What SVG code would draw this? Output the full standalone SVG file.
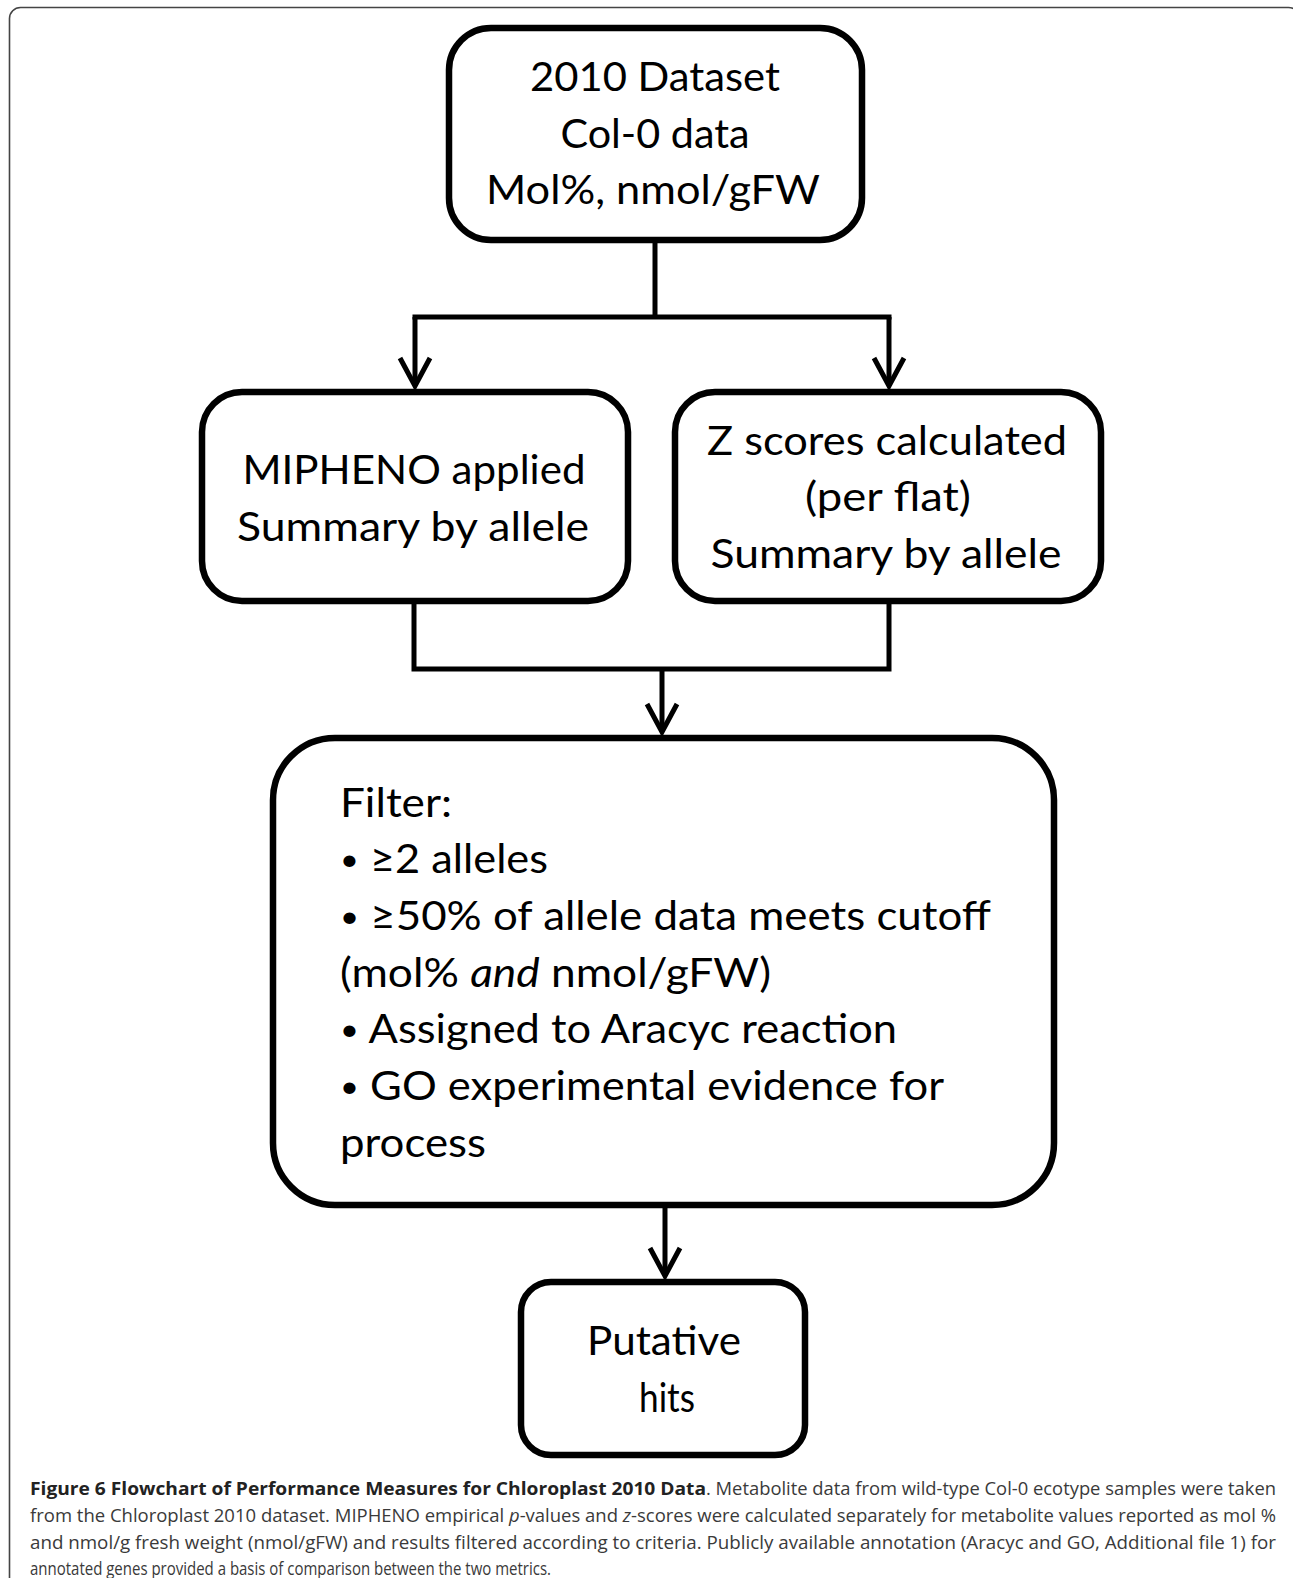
<svg xmlns="http://www.w3.org/2000/svg" width="1293" height="1578" viewBox="0 0 1293 1578">
<style>
.frame{fill:none;stroke:#444;stroke-width:1.6}
.box{fill:#fff;stroke:#000;stroke-width:6.5}
.lbl{font-family:Lato,"Open Sans",sans-serif;font-size:40px;fill:#000}
.mid{text-anchor:middle}
.bul{font-size:30px}
.conn{fill:none;stroke:#000;stroke-width:5}
.cap{font-family:"Open Sans","Noto Sans",sans-serif;font-size:18px;fill:#3a3a3a}
.capb{font-weight:bold;fill:#222}
</style>
<defs>
<marker id="arr" viewBox="-34 -20 40 40" markerWidth="40" markerHeight="40" refX="0" refY="0" orient="auto" markerUnits="userSpaceOnUse">
<path d="M-28,-15 L0,0 L-28,15" fill="none" stroke="#000" stroke-width="5" stroke-linejoin="miter"/>
</marker>
</defs>
<rect class="frame" x="9.5" y="7.5" width="1290" height="1620" rx="11"/>
<g id="connectors">
<path class="conn" d="M655,243 V317"/>
<path class="conn" d="M412.5,317 H891.5"/>
<path class="conn" d="M415,317 V386" marker-end="url(#arr)"/>
<path class="conn" d="M889,317 V386" marker-end="url(#arr)"/>
<path class="conn" d="M414,604 V669 H889 V604"/>
<path class="conn" d="M662,669 V732" marker-end="url(#arr)"/>
<path class="conn" d="M665,1208 V1276" marker-end="url(#arr)"/>
</g>
<g id="node-dataset">
<rect class="box" x="449" y="28" width="413" height="212" rx="42"/>
<text class="lbl mid" x="655" y="91" textLength="250" lengthAdjust="spacingAndGlyphs">2010 Dataset</text>
<text class="lbl mid" x="655" y="148" textLength="189" lengthAdjust="spacingAndGlyphs">Col-0 data</text>
<text class="lbl mid" x="653" y="204" textLength="334" lengthAdjust="spacingAndGlyphs">Mol%, nmol/gFW</text>
</g>
<g id="node-mipheno">
<rect class="box" x="202" y="392" width="426" height="209" rx="40"/>
<text class="lbl mid" x="414" y="484" textLength="343" lengthAdjust="spacingAndGlyphs">MIPHENO applied</text>
<text class="lbl mid" x="413" y="541" textLength="352" lengthAdjust="spacingAndGlyphs">Summary by allele</text>
</g>
<g id="node-zscores">
<rect class="box" x="675" y="392" width="426" height="209" rx="40"/>
<text class="lbl mid" x="887" y="455" textLength="360" lengthAdjust="spacingAndGlyphs">Z scores calculated</text>
<text class="lbl mid" x="888" y="511" textLength="166" lengthAdjust="spacingAndGlyphs">(per flat)</text>
<text class="lbl mid" x="886" y="568" textLength="351" lengthAdjust="spacingAndGlyphs">Summary by allele</text>
</g>
<g id="node-filter">
<rect class="box" x="273" y="738" width="781" height="467" rx="62"/>
<text class="lbl" x="340" y="817" textLength="112" lengthAdjust="spacingAndGlyphs">Filter:</text>
<text class="lbl" x="340" y="873" textLength="208" lengthAdjust="spacingAndGlyphs"><tspan class="bul" dy="-3">•</tspan><tspan dy="3"> ≥2 alleles</tspan></text>
<text class="lbl" x="340" y="930" textLength="651" lengthAdjust="spacingAndGlyphs"><tspan class="bul" dy="-3">•</tspan><tspan dy="3"> ≥50% of allele data meets cutoff</tspan></text>
<text class="lbl" x="340" y="987" textLength="431" lengthAdjust="spacingAndGlyphs">(mol% <tspan font-style="italic">and</tspan> nmol/gFW)</text>
<text class="lbl" x="340" y="1043" textLength="557" lengthAdjust="spacingAndGlyphs"><tspan class="bul" dy="-3">•</tspan><tspan dy="3"> Assigned to Aracyc reaction</tspan></text>
<text class="lbl" x="340" y="1100" textLength="604" lengthAdjust="spacingAndGlyphs"><tspan class="bul" dy="-3">•</tspan><tspan dy="3"> GO experimental evidence for</tspan></text>
<text class="lbl" x="340" y="1157" textLength="146" lengthAdjust="spacingAndGlyphs">process</text>
</g>
<g id="node-putative">
<rect class="box" x="521" y="1282" width="284" height="173" rx="30"/>
<text class="lbl mid" x="664" y="1355" textLength="154" lengthAdjust="spacingAndGlyphs">Putative</text>
<text class="lbl mid" x="667" y="1412" textLength="56" lengthAdjust="spacingAndGlyphs">hits</text>
</g>
<g id="caption">
<text class="cap capb" x="30" y="1495" textLength="676" lengthAdjust="spacingAndGlyphs">Figure 6 Flowchart of Performance Measures for Chloroplast 2010 Data</text>
<text class="cap" x="706" y="1495" textLength="570" lengthAdjust="spacingAndGlyphs">. Metabolite data from wild-type Col-0 ecotype samples were taken</text>
<text class="cap" x="30" y="1522" textLength="1246" lengthAdjust="spacingAndGlyphs">from the Chloroplast 2010 dataset. MIPHENO empirical <tspan font-style="italic">p</tspan>-values and <tspan font-style="italic">z</tspan>-scores were calculated separately for metabolite values reported as mol %</text>
<text class="cap" x="30" y="1549" textLength="1246" lengthAdjust="spacingAndGlyphs">and nmol/g fresh weight (nmol/gFW) and results filtered according to criteria. Publicly available annotation (Aracyc and GO, Additional file 1) for</text>
<text class="cap" x="30" y="1575" textLength="521" lengthAdjust="spacingAndGlyphs">annotated genes provided a basis of comparison between the two metrics.</text>
</g>
</svg>
